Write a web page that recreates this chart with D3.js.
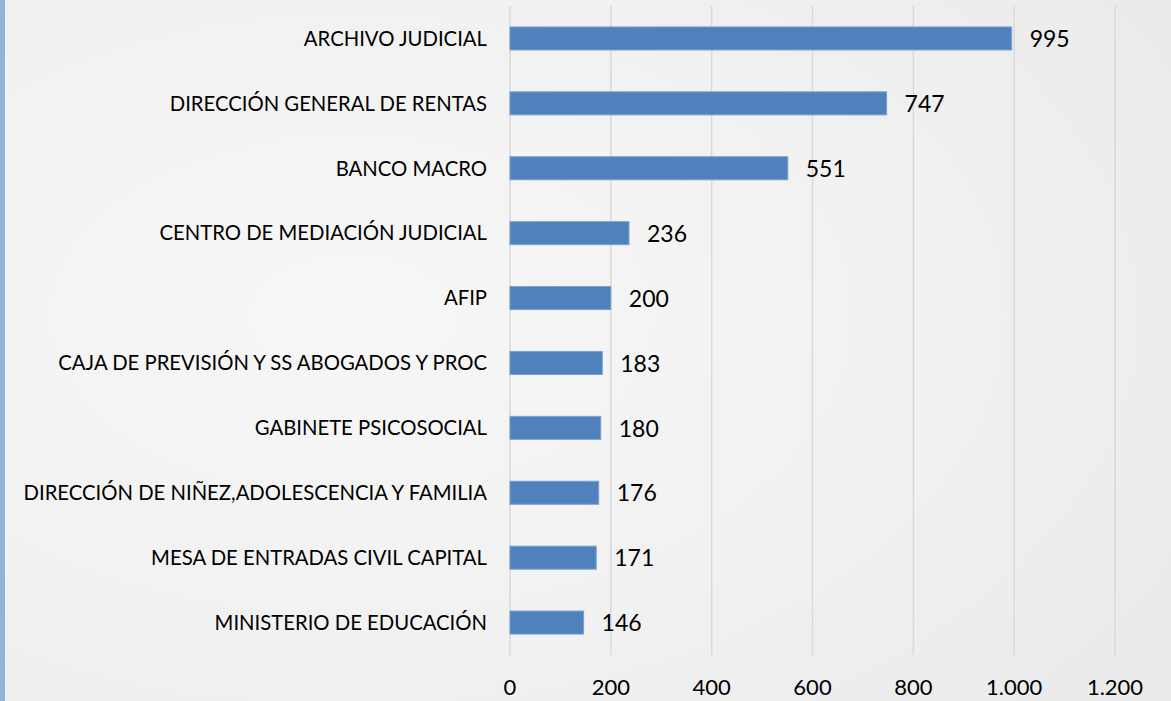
<!DOCTYPE html>
<html>
<head>
<meta charset="utf-8">
<script src="https://cdn.jsdelivr.net/npm/d3@7"></script>
<style>
  html, body { margin: 0; padding: 0; background: #f4f4f4; }
  svg { display: block; }
</style>
</head>
<body>
<div id="chart"></div>
<script>
// data
const categories = [
  'ARCHIVO JUDICIAL',
  'DIRECCIÓN GENERAL DE RENTAS',
  'BANCO MACRO',
  'CENTRO DE MEDIACIÓN JUDICIAL',
  'AFIP',
  'CAJA DE PREVISIÓN Y SS ABOGADOS Y PROC',
  'GABINETE PSICOSOCIAL',
  'DIRECCIÓN DE NIÑEZ,ADOLESCENCIA Y FAMILIA',
  'MESA DE ENTRADAS CIVIL CAPITAL',
  'MINISTERIO DE EDUCACIÓN'
]
const values = [995, 747, 551, 236, 200, 183, 180, 176, 171, 146]
const xTicks = [0, 200, 400, 600, 800, 1000, 1200]

const width = 1171, height = 701
const margin = { top: 6, right: 56, bottom: 46, left: 510 }

const fmt = d3.formatLocale({ decimal: ',', thousands: '.', grouping: [3], currency: ['', ''] }).format(',d')

const svg = d3.select('#chart')
  .append('svg')
  .attr('width', width)
  .attr('height', height)

// faded background
const defs = svg.append('defs')
const bg = defs.append('radialGradient').attr('id', 'bg').attr('cx', '30%').attr('cy', '45%').attr('r', '80%')
bg.append('stop').attr('offset', '0%').attr('stop-color', '#f7f7f7')
bg.append('stop').attr('offset', '60%').attr('stop-color', '#f1f1f1')
bg.append('stop').attr('offset', '100%').attr('stop-color', '#ebebeb')
svg.append('rect').attr('width', width).attr('height', height).attr('fill', 'url(#bg)')
svg.append('rect').attr('x', 0).attr('y', 0).attr('width', 5).attr('height', height).attr('fill', '#95b3d7')

const x = d3.scaleLinear()
  .domain([0, 1200])
  .range([margin.left, width - margin.right])

const y = d3.scaleBand()
  .domain(categories)
  .range([margin.top, height - margin.bottom])
  .paddingInner(0.645)
  .paddingOuter(0.3225)

// gridlines
svg.append('g')
  .selectAll('line')
  .data(xTicks)
  .join('line')
  .attr('x1', d => x(d)).attr('x2', d => x(d))
  .attr('y1', margin.top).attr('y2', height - margin.bottom)
  .attr('stroke', '#d9d9d9')
  .attr('stroke-width', 1.5)

// tick labels
svg.append('g')
  .selectAll('text')
  .data(xTicks)
  .join('text')
  .attr('x', d => x(d))
  .attr('y', 695)
  .attr('text-anchor', 'middle')
  .attr('font-family', 'Lato, "Open Sans", sans-serif')
  .attr('font-size', 22)
  .attr('fill', '#000')
  .text(d => fmt(d))

// bars
svg.append('g')
  .selectAll('rect')
  .data(values)
  .join('rect')
  .attr('x', x(0))
  .attr('y', (d, i) => y(categories[i]))
  .attr('width', d => x(d) - x(0))
  .attr('height', y.bandwidth())
  .attr('fill', '#4f81bd')
  .attr('stroke', '#7ba0cd')
  .attr('stroke-width', 1)

// value labels
svg.append('g')
  .selectAll('text')
  .data(values)
  .join('text')
  .attr('x', d => x(d) + 18)
  .attr('y', (d, i) => y(categories[i]) + y.bandwidth() / 2)
  .attr('dy', '0.38em')
  .attr('font-family', 'Lato, "Open Sans", sans-serif')
  .attr('font-size', 23)
  .attr('fill', '#000')
  .text(d => fmt(d))

// category labels
svg.append('g')
  .selectAll('text')
  .data(categories)
  .join('text')
  .attr('x', margin.left - 23)
  .attr('y', d => y(d) + y.bandwidth() / 2)
  .attr('dy', '0.36em')
  .attr('text-anchor', 'end')
  .attr('font-family', 'Lato, "Open Sans", sans-serif')
  .attr('font-size', 20.3)
  .attr('fill', '#000')
  .text(d => d)
</script>
</body>
</html>
